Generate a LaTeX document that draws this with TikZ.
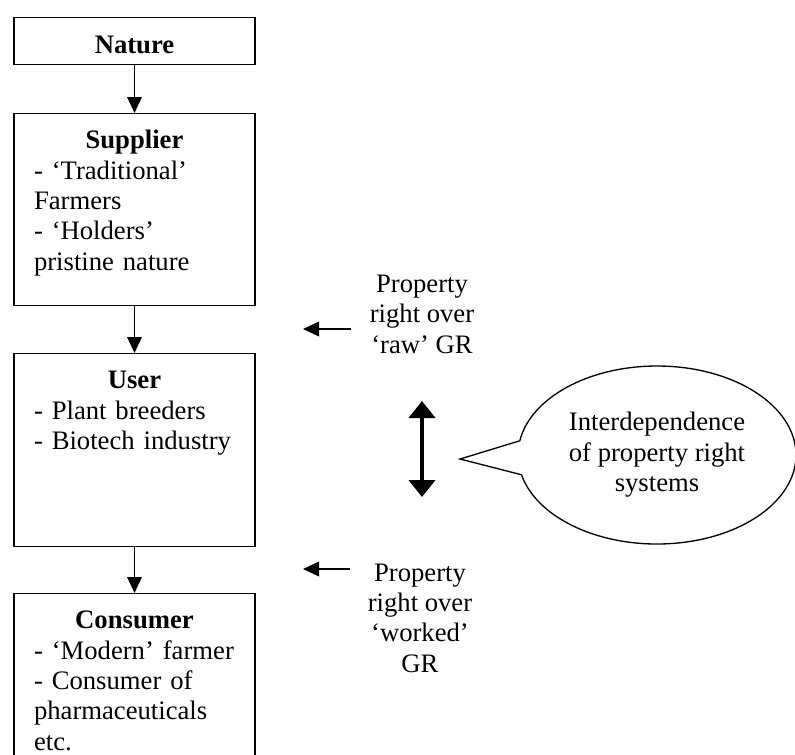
\documentclass[tikz,border=0pt]{standalone}
\usepackage{fontspec}
\setmainfont{Liberation Serif}
\usetikzlibrary{shapes.callouts,arrows.meta}
\begin{document}
\begin{tikzpicture}[
    x=0.75pt, y=-0.75pt,
    every node/.style={font=\fontsize{20}{22.8}\selectfont},
    actor/.style={draw,line width=1.1pt,anchor=north,text width=150.75pt,inner xsep=15pt,inner ysep=0pt,align=left,text height=26.25pt},
    flow/.style={line width=1pt,-{Triangle[length=12pt,width=11pt]}},
    claim/.style={align=center,inner sep=0pt},
    mutual/.style={line width=3.4pt,{Triangle[length=12.75pt,width=19.5pt]}-{Triangle[length=12.75pt,width=19.5pt]}},
    bubble/.style={ellipse callout,draw,line width=1pt,minimum width=208.5pt,minimum height=133.5pt,callout pointer arc=22,align=center}
  ]
  \useasboundingbox (0,0) rectangle (795,754);
  \clip (0,0) rectangle (795,754);
  % Draw the chain of actors.
  \node[actor,text height=27pt,text depth=8.25pt] (nature) at (134.5,17) {\centering\textbf{Nature}\par};
  \node[actor,text depth=117.75pt] (supplier) at (134.5,113) {{\centering\textbf{Supplier}\par}
    - ‘Traditional’\\ Farmers\\ - ‘Holders’\\ pristine nature};
  \node[actor,text depth=118.5pt] (user) at (134.5,353) {{\centering\textbf{User}\par}
    - Plant breeders\\ - Biotech industry};
  \node[actor,text depth=135pt] (consumer) at (134.5,593) {{\centering\textbf{Consumer}\par}
    - ‘Modern’ farmer\\ - Consumer of\\ pharmaceuticals\\ etc.};
  \draw[flow] (nature) -- (supplier);
  \draw[flow] (supplier) -- (user);
  \draw[flow] (user) -- (consumer);
  % Draw the property rights.
  \node[claim] (rawgr) at (422,314) {Property\\ right over\\ ‘raw’ GR};
  \node[claim] (workedgr) at (420,618) {Property\\ right over\\ ‘worked’\\ GR};
  \coordinate (rawfrom) at (351,329);
  \coordinate (rawto) at (303,329);
  \coordinate (workedfrom) at (350,569);
  \coordinate (workedto) at (303,569);
  \draw[flow] (rawfrom) -- (rawto);
  \draw[flow] (workedfrom) -- (workedto);
  % Draw the interdependence.
  \coordinate (mutualtop) at (422,401);
  \coordinate (mutualbottom) at (422,497);
  \draw[mutual] (mutualtop) -- (mutualbottom);
  \node[bubble,callout absolute pointer={(460,459)}] (comment) at (657,455) {Interdependence\\ of property right\\ systems};
\end{tikzpicture}
\end{document}
